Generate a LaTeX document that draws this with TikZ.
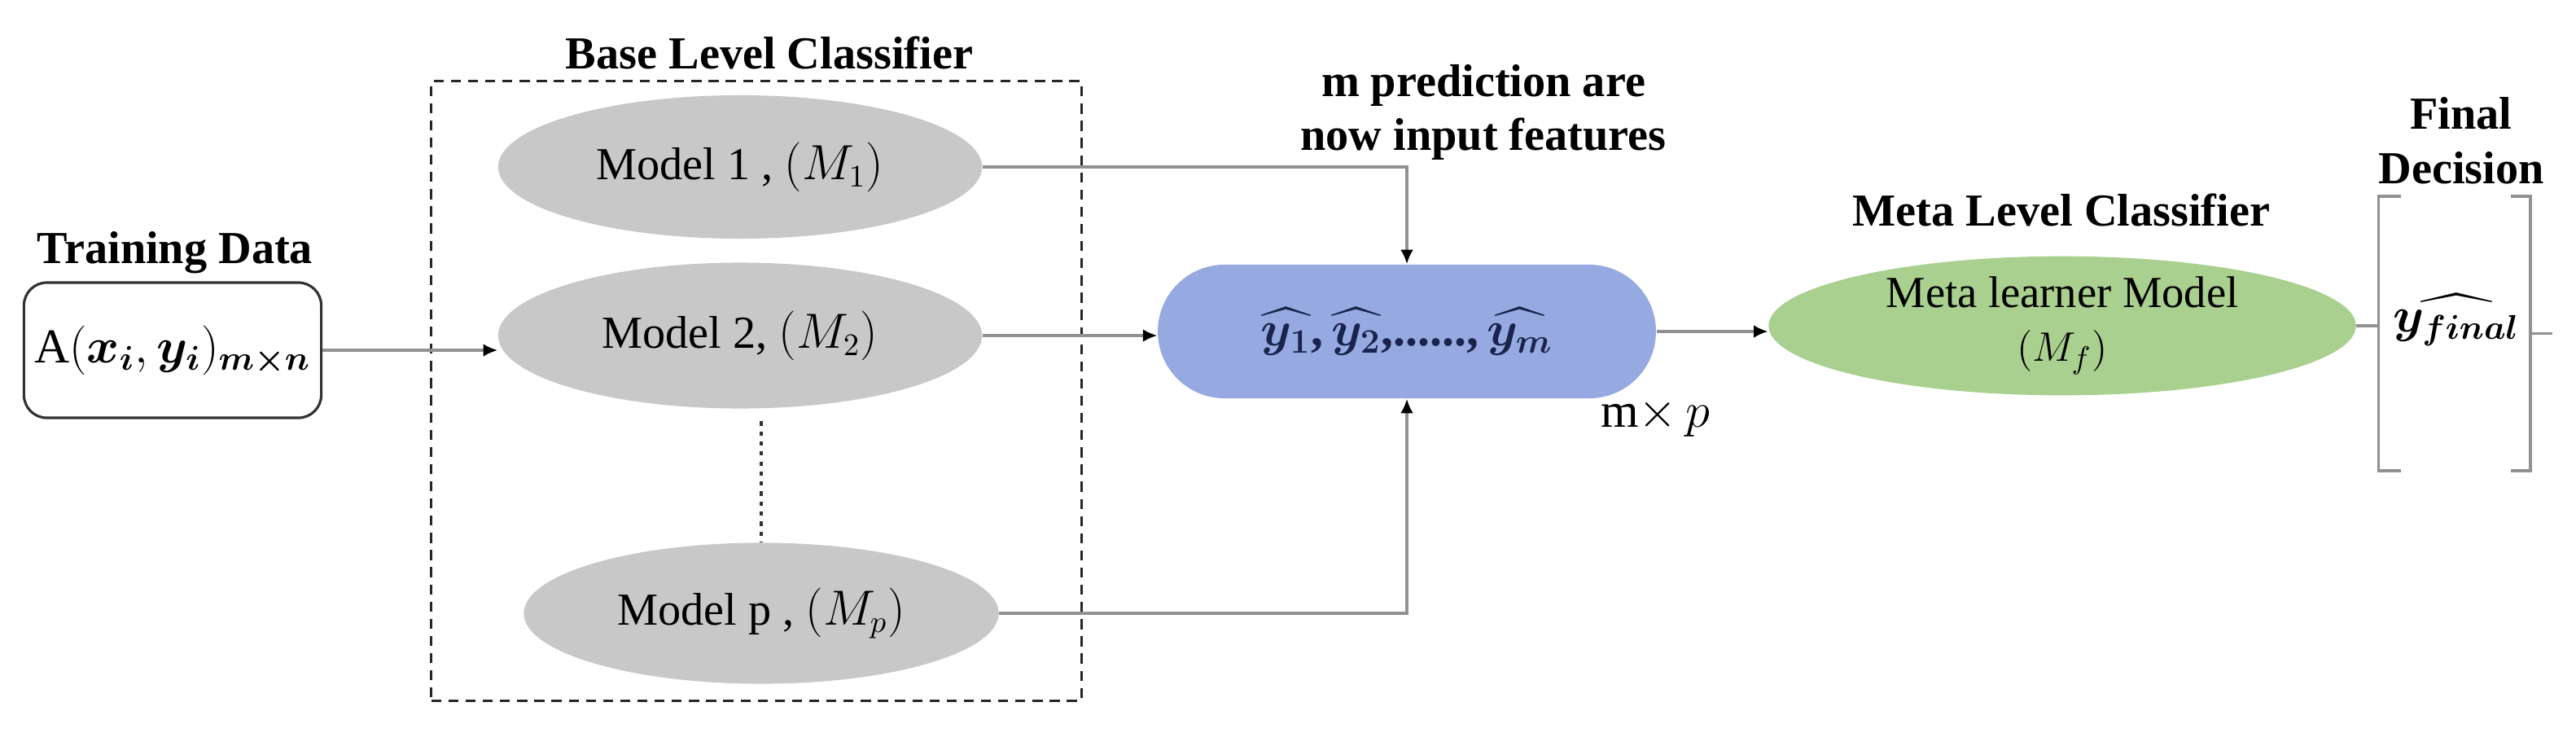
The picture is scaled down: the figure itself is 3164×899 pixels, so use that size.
\documentclass[tikz,border=0pt]{standalone}
\usepackage{fontspec}
\setmainfont{Liberation Serif}
\usepackage{amsmath,bm}
\usetikzlibrary{arrows.meta,shapes.geometric,shapes.misc,calc}
\definecolor{ellgray}{RGB}{200,200,200}
\definecolor{bluefill}{RGB}{150,170,225}
\definecolor{greenfill}{RGB}{169,208,142}
\definecolor{linegray}{RGB}{145,145,145}
\definecolor{navy}{RGB}{25,35,75}
\definecolor{boxline}{RGB}{50,50,50}
\begin{document}
\begin{tikzpicture}[x=0.01cm,y=-0.01cm,
  lab/.style={font=\fontsize{16}{19}\selectfont\bfseries, align=center, inner sep=0pt},
  model/.style={ellipse, fill=ellgray, font=\fontsize{16}{19}\selectfont, inner sep=0pt},
  conn/.style={draw=linegray, line width=0.9pt, -{Latex[length=5pt,width=4.5pt,color=black]}},
  plainline/.style={draw=linegray, line width=0.9pt},
  dotline/.style={draw=black!80, line width=0.9pt, dash pattern=on 1.5pt off 2pt},
  dashbox/.style={draw=black!85, line width=0.8pt, dash pattern=on 3.5pt off 2.5pt},
  bracketline/.style={draw=linegray, line width=1pt},
]
\useasboundingbox (0,0) rectangle (3164,899);

% Training data
\node[lab] (tdlab) at (215,310) {Training Data};
\node[draw=boxline, line width=0.9pt, rounded corners=8pt, minimum width=3.65cm, minimum height=1.66cm,
      font=\fontsize{17}{20}\selectfont] (train) at (212,430)
      {A$(\bm{x_i},\bm{y_i})_{\bm{m\times n}}$};

% Base level
\node[model, minimum width=5.94cm, minimum height=1.76cm] (m1) at (909,205) {Model 1 , $(M_1)$};
\node[model, minimum width=5.94cm, minimum height=1.79cm] (m2) at (909,412) {Model 2, $(M_2)$};
\node[model, minimum width=5.83cm, minimum height=1.73cm] (mp) at (935,753) {Model p , $(M_p)$};
\node[dashbox, minimum width=7.98cm, minimum height=7.6cm] (base) at (929,480) {};
\node[lab] (baselab) at (945,65) {Base Level Classifier};
\draw[dotline] ($(m2.south -| mp.north)+(0,15)$) -- (mp.north);

% Predictions
\node[rounded rectangle, fill=bluefill, minimum width=6.35cm, minimum height=1.64cm,
      font=\fontsize{17}{20}\selectfont, text=navy] (blue) at (1728,407)
      {$\widehat{\bm{y_1}}$\textbf{,\,}$\widehat{\bm{y_2}}$\textbf{,......,\,}$\widehat{\bm{y_m}}$};
\node[lab] (mpred) at (1822,138) {m prediction are\\now input features};
\node[font=\fontsize{17}{20}\selectfont] (mxp) at (2033,513) {m$\times\,p$};

% Meta level
\node[ellipse, fill=greenfill, minimum width=7.21cm, minimum height=1.70cm, inner sep=0pt,
      align=center, font=\fontsize{15.5}{18.8}\selectfont] (meta) at (2533,400)
      {Meta learner Model\\$(M_f)$};
\node[lab] (metalab) at (2532,258) {Meta Level Classifier};

% Final decision
\node[lab] (fdlab) at (3023,173) {Final\\Decision};
\node[minimum width=1.85cm, minimum height=3.35cm, inner sep=0pt] (fd) at (3014.5,409.5) {};
\node[font=\fontsize{18}{21}\selectfont] (yf) at (3017,393) {$\widehat{\bm{y_{final}}}$};
\draw[bracketline] ($(fd.north west)+(28,0)$) -- (fd.north west) -- (fd.south west) -- ++(28,0);
\draw[bracketline] ($(fd.north east)+(-24,0)$) -- (fd.north east) -- (fd.south east) -- ++(-24,0);
\coordinate (fout) at (3135,409.5);

% Connectors
\draw[conn] (train.east) -- (train.east -| m2.west);
\draw[conn] (m1.east) -| (blue.north);
\draw[conn] (m2.east) -- (m2.east -| blue.west);
\draw[conn] (mp.east) -| (blue.south);
\draw[conn] (blue.east) -- (blue.east -| meta.west);
\draw[plainline] (meta.east) -- (meta.east -| fd.west);
\draw[plainline] (fd.east) -- (fout);
\end{tikzpicture}
\end{document}
